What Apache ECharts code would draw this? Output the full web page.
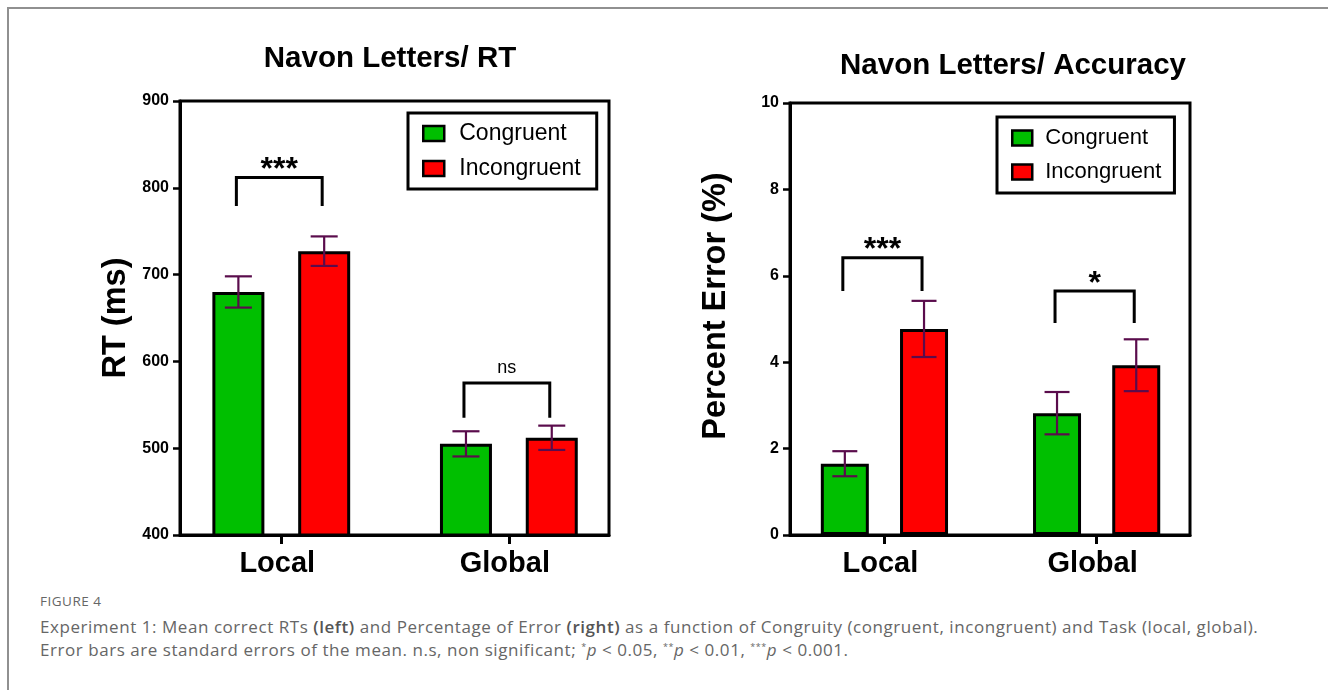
<!DOCTYPE html>
<html>
<head>
<meta charset="utf-8">
<script src="https://cdn.jsdelivr.net/npm/echarts@6/dist/echarts.min.js"></script>
<style>
  html, body { margin: 0; padding: 0; background: #fff; }
  #frame { position: absolute; left: 7px; top: 7px; width: 1330px; height: 700px;
           border-top: 2px solid #909090; border-left: 2px solid #909090; }
  #chart { position: absolute; left: 0; top: 0; width: 1328px; height: 590px; }
  #caption { position: absolute; left: 40px; top: 592px; width: 1285px;
             font-family: "Open Sans", Lato, sans-serif; color: #666; white-space: nowrap; }
  #caption .fig { font-size: 13.5px; letter-spacing: 0.5px; margin-bottom: 5px; }
  #caption .txt { font-size: 17px; line-height: 23px; letter-spacing: 0.55px; }
  #caption b { color: #555; font-weight: 600; }
  #caption sup { font-size: 9px; line-height: 0; vertical-align: 6px; }
</style>
</head>
<body>
<div id="frame"></div>
<div id="chart"></div>
<div id="caption">
  <div class="fig">FIGURE 4</div>
  <div class="txt">Experiment 1: Mean correct RTs <b>(left)</b> and Percentage of Error <b>(right)</b> as a function of Congruity (congruent, incongruent) and Task (local, global).<br>
  Error bars are standard errors of the mean. n.s, non significant; <sup>*</sup><i>p</i> &lt; 0.05, <sup>**</sup><i>p</i> &lt; 0.01, <sup>***</sup><i>p</i> &lt; 0.001.</div>
</div>
<script>
// 数据
const tasks = ['Local', 'Global'];
const conditions = ['Congruent', 'Incongruent'];

const rtCongruent = [680, 505];
const rtCongruentSE = [18, 14.5];
const rtIncongruent = [727, 512];
const rtIncongruentSE = [17, 14];

const errCongruent = [1.65, 2.82];
const errCongruentSE = [0.29, 0.49];
const errIncongruent = [4.77, 3.93];
const errIncongruentSE = [0.65, 0.6];

const rtTicks = { min: 400, max: 900, interval: 100 };
const errTicks = { min: 0, max: 10, interval: 2 };

// 显著性标注
const rtSig = [
  { task: 'Local', label: '***', top: 812, leg: 779 },
  { task: 'Global', label: 'ns', top: 575, leg: 535 }
];
const errSig = [
  { task: 'Local', label: '***', top: 6.42, leg: 5.65 },
  { task: 'Global', label: '*', top: 5.65, leg: 4.91 }
];

const FONT = '"Liberation Sans", Arial, Helvetica, sans-serif';
const GREEN = '#00bf00';
const RED = '#ff0000';
const ERR_COLOR = '#5a0c4c';

const chart = echarts.init(document.getElementById('chart'));

// 两个子图的布局
const panels = [
  {
    title: 'Navon Letters/ RT', titleX: 390, titleY: 59,
    yName: 'RT (ms)', nameGap: 47, namePad: [0, 0, 0, 0],
    grid: { left: 180, top: 101, width: 429, height: 434 },
    ticks: rtTicks, barWidth: 52,
    data: [rtCongruent, rtIncongruent], se: [rtCongruentSE, rtIncongruentSE],
    sig: rtSig,
    legend: { left: 408, top: 113, itemWidth: 21, fontSize: 23, padding: [9, 16, 9, 14], textPad: 10 }
  },
  {
    title: 'Navon Letters/ Accuracy', titleX: 1013, titleY: 66,
    yName: 'Percent Error (%)', nameGap: 57, namePad: [0, 0, 0, 26],
    grid: { left: 790, top: 103, width: 400, height: 432 },
    ticks: errTicks, barWidth: 48,
    data: [errCongruent, errIncongruent], se: [errCongruentSE, errIncongruentSE],
    sig: errSig,
    legend: { left: 997, top: 117, itemWidth: 20, fontSize: 22, padding: [10, 13, 10, 14], textPad: 8 }
  }
];

const BAR_GAP = 0.65;

const option = {
  animation: false,
  graphic: [],
  legend: [],
  grid: [],
  xAxis: [],
  yAxis: [],
  series: []
};

panels.forEach((p, gi) => {
  const half = p.barWidth * (1 + BAR_GAP) / 2; // 组内柱中心偏移

  option.graphic.push({
    type: 'text', x: p.titleX, y: p.titleY,
    style: { text: p.title, align: 'center', verticalAlign: 'middle',
      font: 'bold 29.5px ' + FONT, fill: '#000' }
  });

  option.grid.push(Object.assign({
    show: true, borderColor: '#000', borderWidth: 3, backgroundColor: 'transparent'
  }, p.grid));

  option.xAxis.push({
    type: 'value', gridIndex: gi, min: -0.445, max: 1.44,
    splitLine: { show: false },
    axisLine: { show: true, onZero: false, lineStyle: { color: '#000', width: 3 } },
    axisTick: { show: true, customValues: [0, 1], length: 9, lineStyle: { color: '#000', width: 3 } },
    axisLabel: {
      customValues: [0, 1], margin: 14, padding: [0, 8, 0, 0],
      formatter: v => tasks[Math.round(v)],
      fontFamily: FONT, fontWeight: 'bold', fontSize: 29, color: '#000'
    }
  });

  option.yAxis.push({
    type: 'value', gridIndex: gi,
    min: p.ticks.min, max: p.ticks.max, interval: p.ticks.interval,
    name: p.yName, nameLocation: 'middle', nameGap: p.nameGap,
    nameTextStyle: { fontFamily: FONT, fontWeight: 'bold', fontSize: 32.5, color: '#000', padding: p.namePad },
    splitLine: { show: false },
    axisLine: { show: true, onZero: false, lineStyle: { color: '#000', width: 3 } },
    axisTick: { show: true, length: 7, lineStyle: { color: '#000', width: 2.5 } },
    axisLabel: { margin: 11, fontFamily: FONT, fontWeight: 'bold', fontSize: 16, color: '#000' }
  });

  option.legend.push({
    data: conditions, orient: 'vertical', selectedMode: false,
    left: p.legend.left, top: p.legend.top,
    padding: p.legend.padding,
    borderColor: '#000', borderWidth: 3,
    itemWidth: p.legend.itemWidth, itemHeight: 15, itemGap: 12,
    icon: 'rect',
    itemStyle: { borderColor: '#000', borderWidth: 2.5 },
    textStyle: { fontFamily: FONT, fontSize: p.legend.fontSize, color: '#000', padding: [0, 0, 0, p.legend.textPad] }
  });

  conditions.forEach((c, ci) => {
    option.series.push({
      name: c, type: 'bar', xAxisIndex: gi, yAxisIndex: gi,
      barWidth: p.barWidth, barGap: (BAR_GAP * 100) + '%',
      itemStyle: { color: ci === 0 ? GREEN : RED, borderColor: '#000', borderWidth: 3 },
      data: p.data[ci].map((v, ti) => [ti, v]),
      z: 2
    });

    // 误差线
    option.series.push({
      type: 'custom', xAxisIndex: gi, yAxisIndex: gi, z: 5,
      data: p.data[ci].map((v, ti) => [ti, v, p.se[ci][ti]]),
      renderItem: (params, api) => {
        const x = api.value(0), m = api.value(1), s = api.value(2);
        const xc = api.coord([x, m])[0] + (ci === 0 ? -half : half);
        const yTop = api.coord([x, m + s])[1];
        const yBot = api.coord([x, m - s])[1];
        const cap = p.barWidth * 0.26;
        const st = { stroke: ERR_COLOR, lineWidth: 2.2 };
        return {
          type: 'group',
          children: [
            { type: 'line', shape: { x1: xc, y1: yTop, x2: xc, y2: yBot }, style: st },
            { type: 'line', shape: { x1: xc - cap, y1: yTop, x2: xc + cap, y2: yTop }, style: st },
            { type: 'line', shape: { x1: xc - cap, y1: yBot, x2: xc + cap, y2: yBot }, style: st }
          ]
        };
      }
    });
  });

  // 显著性括号
  option.series.push({
    type: 'custom', xAxisIndex: gi, yAxisIndex: gi, z: 6, clip: false,
    data: p.sig.map(s => [tasks.indexOf(s.task), s.top, s.leg]),
    renderItem: (params, api) => {
      const s = p.sig[params.dataIndex];
      const x = api.value(0);
      const xc = api.coord([x, api.value(1)])[0];
      const yTop = api.coord([x, api.value(1)])[1];
      const yLeg = api.coord([x, api.value(2)])[1];
      const x1 = xc - half - 2, x2 = xc + half - 2;
      const isStar = s.label.indexOf('*') >= 0;
      return {
        type: 'group',
        children: [
          { type: 'polyline', shape: { points: [[x1, yLeg], [x1, yTop], [x2, yTop], [x2, yLeg]] },
            style: { stroke: '#000', lineWidth: 3, fill: 'none' } },
          { type: 'text', x: (x1 + x2) / 2, y: isStar ? yTop - 7 : yTop - 15.5,
            style: { text: s.label, align: 'center', verticalAlign: 'middle',
              font: (isStar ? 'bold 32px ' : '18px ') + FONT, fill: '#000' } }
        ]
      };
    }
  });
});

chart.setOption(option);
window.addEventListener('resize', () => chart.resize());
</script>
</body>
</html>
